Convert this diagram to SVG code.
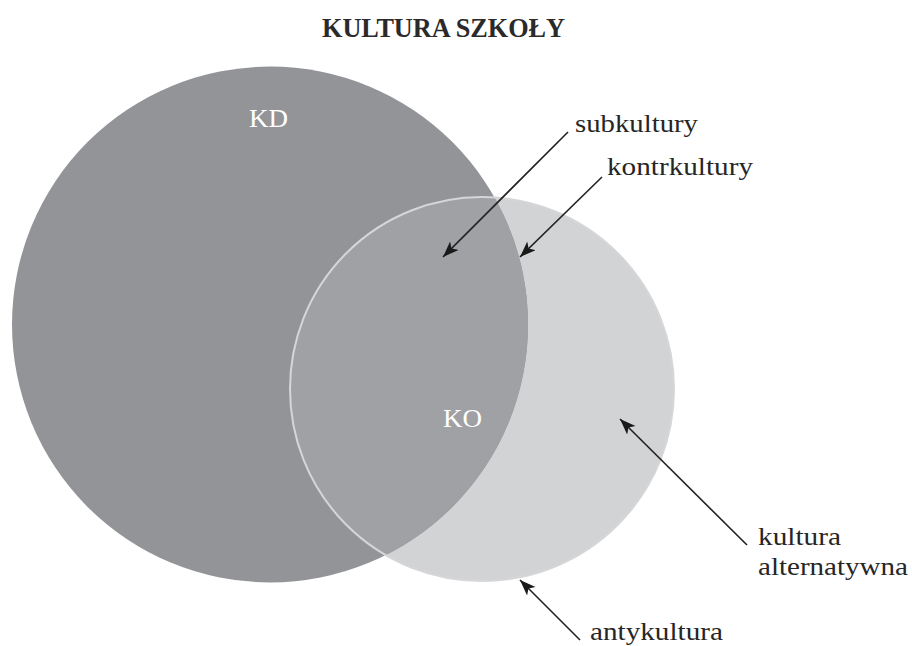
<svg xmlns="http://www.w3.org/2000/svg" width="912" height="646" viewBox="0 0 912 646">
  <style>
    .label { font-family: "Liberation Serif", "DejaVu Serif", serif; font-size: 26px; fill: #262626; }
    .title { font-family: "Liberation Serif", "DejaVu Serif", serif; font-size: 27px; font-weight: bold; fill: #2a2a2a; }
    .inner { font-family: "Liberation Serif", "DejaVu Serif", serif; font-size: 25px; fill: #ffffff; }
    .arrow { stroke: #222222; stroke-width: 1.6; fill: none; marker-end: url(#head); }
  </style>
  <defs>
    <marker id="head" markerUnits="userSpaceOnUse" markerWidth="18" markerHeight="14" refX="16" refY="6" orient="auto">
      <path d="M0,0 L16,6 L0,12 L4,6 Z" fill="#1a1a1a"/>
    </marker>
    <clipPath id="kdClip">
      <circle cx="270" cy="324.5" r="258"/>
    </clipPath>
  </defs>
  <rect width="912" height="646" fill="#ffffff"/>

  <text class="title" x="322" y="37" textLength="243" lengthAdjust="spacingAndGlyphs">KULTURA SZKOŁY</text>

  <g id="ko">
    <circle cx="482" cy="389" r="192" fill="#d2d3d5"/>
  </g>
  <g id="kd">
    <circle cx="270" cy="324.5" r="258" fill="#939497"/>
    <text class="inner" x="249" y="127" textLength="39" lengthAdjust="spacingAndGlyphs">KD</text>
  </g>
  <g id="ko-overlap">
    <circle cx="482" cy="389" r="192" fill="#a0a1a4" clip-path="url(#kdClip)"/>
    <circle cx="482" cy="389" r="192" fill="none" stroke="#d6d6d8" stroke-width="2"/>
    <text class="inner" x="443" y="427" textLength="39" lengthAdjust="spacingAndGlyphs">KO</text>
  </g>

  <g id="connectors">
    <line class="arrow" x1="568" y1="132" x2="443" y2="257"/>
    <line class="arrow" x1="602" y1="177" x2="520" y2="257"/>
    <line class="arrow" x1="747" y1="545" x2="620" y2="419"/>
    <line class="arrow" x1="580" y1="640" x2="520" y2="580"/>
  </g>

  <g id="labels">
    <text class="label" x="575" y="132" textLength="123" lengthAdjust="spacingAndGlyphs">subkultury</text>
    <text class="label" x="607" y="175" textLength="146" lengthAdjust="spacingAndGlyphs">kontrkultury</text>
    <text class="label" x="758" y="545" textLength="83" lengthAdjust="spacingAndGlyphs">kultura</text>
    <text class="label" x="758" y="575" textLength="150" lengthAdjust="spacingAndGlyphs">alternatywna</text>
    <text class="label" x="590" y="640" textLength="133" lengthAdjust="spacingAndGlyphs">antykultura</text>
  </g>
</svg>
